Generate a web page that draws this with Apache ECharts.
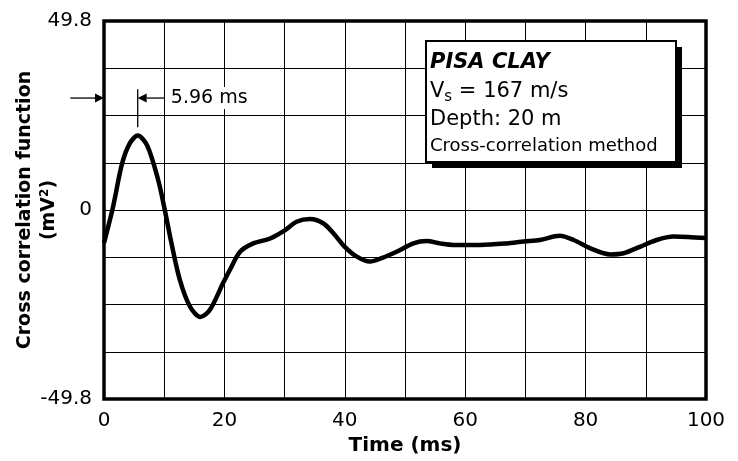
<!DOCTYPE html>
<html><head><meta charset="utf-8">
<script src="https://cdn.jsdelivr.net/npm/echarts@6/dist/echarts.min.js"></script>
<style>html,body{margin:0;padding:0;background:#fff}#c{width:738px;height:461px}</style>
</head><body><div id="c"></div>
<script>
// ---- data ----
const timeMs = [0, 1.5, 3.0, 4.3, 5.6, 7.2, 9.0, 10.1, 11.2, 12.6, 14.3, 16.0, 17.6, 19.8,
  20.9, 22.6, 24.8, 27.6, 30.1, 32.0, 34.2, 36.4, 38.1, 40.0, 42.0, 44.2, 46.1, 48.6,
  51.4, 53.6, 55.8, 58.0, 62.5, 66.9, 69.7, 72.4, 75.7, 78.0, 80.8, 84.1, 86.3, 89.0,
  91.8, 94.6, 97.0, 100];
const correlation = [-8.7, 0.8, 12.2, 17.6, 19.6, 16.9, 7.9, 0, -8.7, -18.4, -25.5, -28.2, -26.3, -19.2,
  -15.8, -11.0, -8.8, -7.5, -5.3, -3.1, -2.4, -3.5, -6.1, -9.7, -12.3, -13.6, -12.7, -11.0,
  -8.8, -8.2, -8.8, -9.2, -9.2, -8.8, -8.3, -7.9, -6.8, -7.9, -10.1, -11.7, -11.4, -9.7,
  -7.9, -7.0, -7.1, -7.4];
const xTickLabels = ['0', '20', '40', '60', '80', '100'];
const yTickLabels = ['-49.8', '0', '49.8'];
const yMin = -49.8, yMax = 49.8, yStep = 12.45;
const xMin = 0, xMax = 100, xStep = 10;
const peakTime = 5.6;          // position of the peak marker on the picture
const peakLabel = '5.96 ms';
const boxTitle = 'PISA CLAY';
const boxLines = ['V{sub|s} = 167 m/s', 'Depth: 20 m', 'Cross-correlation method'];

const FONT = '"DejaVu Sans", "Liberation Sans", Arial, sans-serif';
const chart = echarts.init(document.getElementById('c'), null, {renderer: 'canvas'});

const seriesData = timeMs.map((t, i) => [t, correlation[i]]);
function near(a, b) { return Math.abs(a - b) < 1e-6; }

chart.setOption({
  animation: false,
  backgroundColor: '#fff',
  grid: {left: 104, right: 32, top: 21, bottom: 62, containLabel: false, outerBoundsMode: 'none',
    show: true, borderColor: '#000', borderWidth: 3.5, backgroundColor: 'transparent'},
  xAxis: {
    type: 'value', min: xMin, max: xMax, interval: xStep,
    axisLine: {show: false}, axisTick: {show: false},
    splitLine: {show: true, lineStyle: {color: '#000', width: 1}},
    axisLabel: {
      color: '#000', fontFamily: FONT, fontSize: 20, margin: 12,
      formatter: v => { const s = String(Math.round(v)); return xTickLabels.includes(s) ? s : ''; }
    },
    name: 'Time (ms)', nameLocation: 'middle', nameGap: 37, nameMoveOverlap: false,
    nameTextStyle: {color: '#000', fontFamily: FONT, fontSize: 20, fontWeight: 'bold'}
  },
  yAxis: {
    type: 'value', min: yMin, max: yMax, interval: yStep,
    axisLine: {show: false}, axisTick: {show: false},
    splitLine: {show: true, lineStyle: {color: '#000', width: 1}},
    axisLabel: {
      color: '#000', fontFamily: FONT, fontSize: 20, margin: 12,
      formatter: v => {
        for (const s of yTickLabels) { if (near(v, parseFloat(s))) return s; }
        return '';
      }
    },
    name: 'Cross correlation function\n(mV{sup|2})', nameLocation: 'middle', nameGap: 43, nameRotate: 90,
    nameMoveOverlap: false,
    nameTextStyle: {
      color: '#000', fontFamily: FONT, fontSize: 19, fontWeight: 'bold', lineHeight: 24, align: 'center',
      rich: {sup: {fontFamily: FONT, fontSize: 12, fontWeight: 'bold', color: '#000', padding: [0, 0, 9, 0]}}
    }
  },
  series: [{
    type: 'line', data: seriesData, smooth: 0.3, showSymbol: false, symbol: 'none',
    lineStyle: {color: '#000', width: 4.5}, clip: true, z: 5
  }]
});

function px(t, v) { return chart.convertToPixel({gridIndex: 0}, [t, v]); }
const arrowV = 29.5;
const a0 = px(-5.6, arrowV), a1 = px(0, arrowV);
const tk0 = px(peakTime, 31.8), tk1 = px(peakTime, 21.8);
const r0 = px(10.1, arrowV), r1 = px(peakTime, arrowV);
const txt = px(11.1, arrowV);
const ah = 9, aw = 4.5;
const boxX = 426, boxY = 41, boxW = 250, boxH = 121;

chart.setOption({
  graphic: [
    {type: 'line', shape: {x1: a0[0], y1: a0[1], x2: a1[0] - ah, y2: a1[1]}, style: {stroke: '#000', lineWidth: 1.3}, z: 20},
    {type: 'polygon', shape: {points: [[a1[0], a1[1]], [a1[0] - ah, a1[1] - aw], [a1[0] - ah, a1[1] + aw]]}, style: {fill: '#000'}, z: 20},
    {type: 'line', shape: {x1: tk0[0], y1: tk0[1], x2: tk1[0], y2: tk1[1]}, style: {stroke: '#000', lineWidth: 1.3}, z: 20},
    {type: 'line', shape: {x1: r0[0], y1: r0[1], x2: r1[0] + ah, y2: r1[1]}, style: {stroke: '#000', lineWidth: 1.3}, z: 20},
    {type: 'polygon', shape: {points: [[r1[0], r1[1]], [r1[0] + ah, r1[1] - aw], [r1[0] + ah, r1[1] + aw]]}, style: {fill: '#000'}, z: 20},
    {type: 'rect', shape: {x: txt[0] - 3, y: txt[1] - 11, width: 82, height: 22}, style: {fill: '#fff'}, z: 19},
    {type: 'text', x: txt[0], y: txt[1], style: {text: peakLabel, font: '19px ' + FONT, fill: '#000', align: 'left', verticalAlign: 'middle'}, z: 21},
    // info box
    {type: 'rect', shape: {x: boxX + 6, y: boxY + 6, width: boxW, height: boxH}, style: {fill: '#000'}, z: 30},
    {type: 'rect', shape: {x: boxX, y: boxY, width: boxW, height: boxH}, style: {fill: '#fff', stroke: '#000', lineWidth: 2}, z: 31},
    {type: 'text', x: boxX + 4, y: 63, style: {text: boxTitle, font: 'italic bold 21px ' + FONT, fill: '#000', align: 'left', verticalAlign: 'middle'}, z: 32},
    {type: 'text', x: boxX + 4, y: 92, style: {text: boxLines[0], font: '21px ' + FONT, fill: '#000', align: 'left', verticalAlign: 'middle',
      rich: {sub: {font: '15px ' + FONT, fill: '#000', padding: [10, 0, 0, 0]}}}, z: 32},
    {type: 'text', x: boxX + 4, y: 120, style: {text: boxLines[1], font: '21px ' + FONT, fill: '#000', align: 'left', verticalAlign: 'middle'}, z: 32},
    {type: 'text', x: boxX + 4, y: 146, style: {text: boxLines[2], font: '18px ' + FONT, fill: '#000', align: 'left', verticalAlign: 'middle'}, z: 32}
  ]
});
</script></body></html>
